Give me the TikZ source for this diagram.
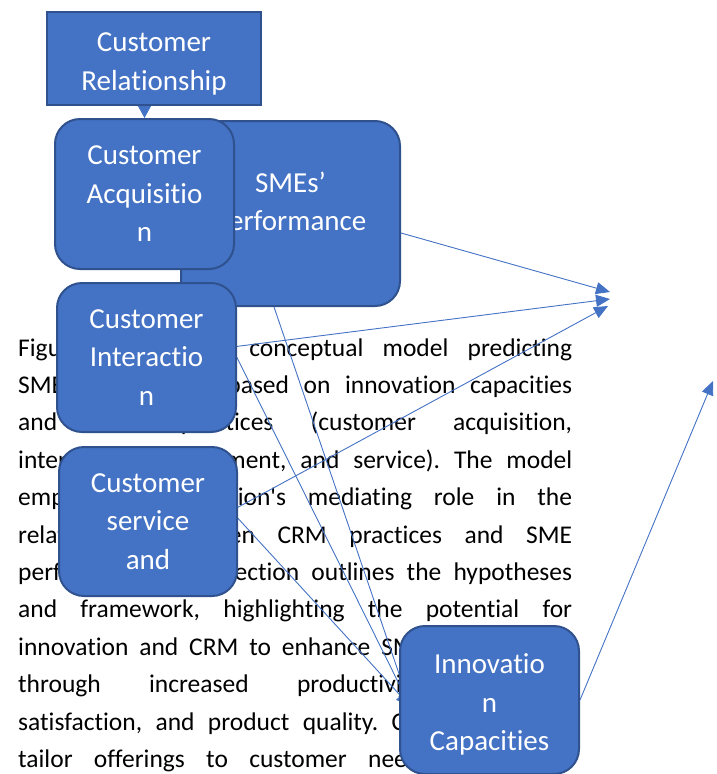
\documentclass[tikz,border=0pt]{standalone}
\usepackage{fontspec}
\setmainfont{Carlito}[Ligatures={NoCommon,TeXOff}]
\usetikzlibrary{arrows.meta}
\definecolor{boxblue}{HTML}{4472C4}
\definecolor{boxedge}{HTML}{2F528F}
\pgfdeclarelayer{back}
\pgfdeclarelayer{wires}
\pgfsetlayers{back,wires,main}
\tikzset{
  blk/.style={draw=boxedge,line width=2pt,fill=boxblue,text=white,rounded corners=25pt,
    inner sep=0pt,align=center,anchor=north west,font=\fontsize{29}{38.5}\selectfont},
  txt/.style={anchor=base west,inner sep=0pt,font=\fontsize{25.5}{37.4}\selectfont},
  wire/.style={draw=boxblue,line width=0.9pt,-{Triangle[length=14pt,width=12pt]}}
}
\frenchspacing
\begin{document}
\begin{tikzpicture}[x=1pt,y=-1pt]
  \useasboundingbox (0,0) rectangle (717,774);
  %% Paragraph
  \begin{pgfonlayer}{back}
  \foreach \ln [count=\i] in {
      {Figure 1 shows a conceptual model predicting},
      {SME performance based on innovation capacities},
      {and CRM practices (customer acquisition,},
      {interaction, engagement, and service). The model},
      {emphasizes innovation's mediating role in the},
      {relationship between CRM practices and SME},
      {performance. This section outlines the hypotheses},
      {and framework, highlighting the potential for},
      {innovation and CRM to enhance SME performance},
      {through increased productivity, customer},
      {satisfaction, and product quality. Companies must},
      {tailor offerings to customer needs and foster}}
    \node[txt] (p\i) at (18,{356+37.4*(\i-1)}) {\makebox[554pt][s]{\ln}};
  \end{pgfonlayer}
  %% Boxes
  \node[blk,sharp corners,minimum width=214pt,minimum height=93pt] (rel) at (46,11) {\rule{0pt}{29.5pt}Customer\\Relationship};
  \node[blk,minimum width=219pt,minimum height=185pt] (sme) at (180,120) {SMEs’\\Performance\rule[-24pt]{0pt}{0pt}};
  \node[blk,minimum width=179pt,minimum height=150pt] (acq) at (54,118) {Customer\\Acquisitio\\n};
  \node[blk,minimum width=179pt,minimum height=149pt] (int) at (56,282) {Customer\\Interactio\\n};
  \node[blk,minimum width=178pt,minimum height=149pt] (srv) at (58,446) {Customer\\service\\and};
  \node[blk,minimum width=179pt,minimum height=148pt] (inn) at (399,625) {\rule{0pt}{29.5pt}Innovatio\\n\\Capacities};
  %% Arrow ends
  \coordinate (ta) at (610,292);
  \coordinate (tb) at (610,299);
  \coordinate (tc) at (608,306);
  \coordinate (td) at (713,381);
  \coordinate (ti) at (410,706);
  %% Links
  \begin{pgfonlayer}{wires}
  \draw[wire,-{Triangle[length=13pt,width=14pt]}] (rel.south -| acq.north) -- (acq.north);
  \draw[wire] (sme.-10) -- (ta);
  \draw[wire] (int.7) -- (tb);
  \draw[wire] (srv.9) -- (tc);
  \draw[wire] (inn.east) -- (td);
  \draw[wire] (sme.-100) -- (ti);
  \draw[wire] (int.east) -- (ti);
  \draw[wire] (srv.2) -- (ti);
  \end{pgfonlayer}
\end{tikzpicture}
\end{document}
